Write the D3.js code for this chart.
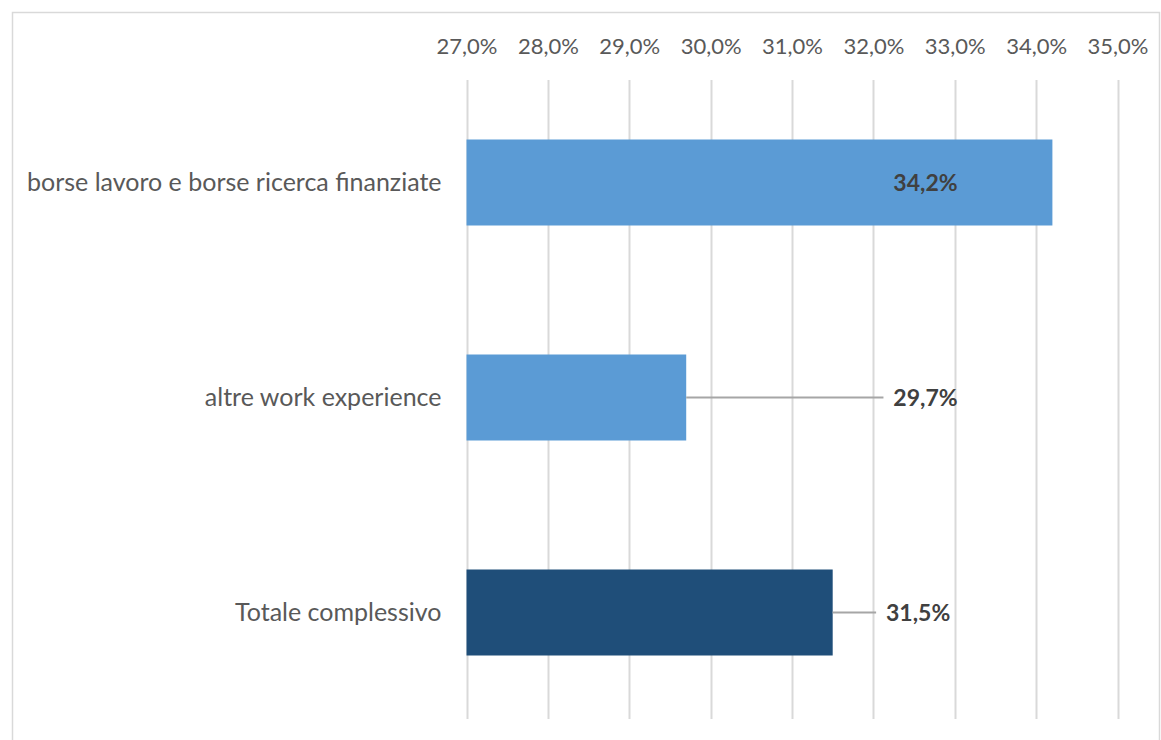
<!DOCTYPE html>
<html>
<head>
<meta charset="utf-8">
<script src="https://cdn.jsdelivr.net/npm/d3@7"></script>
<style>
  html, body { margin: 0; padding: 0; background: #fff; }
  svg { display: block; }
</style>
</head>
<body>
<svg id="chart" width="1161" height="740"></svg>
<script>
// Share by category (percent)
const categories = ["borse lavoro e borse ricerca finanziate", "altre work experience", "Totale complessivo"];
const values = [34.2, 29.7, 31.5];
const barColors = ["#5B9BD5", "#5B9BD5", "#1F4E79"];
const tickValues = [27, 28, 29, 30, 31, 32, 33, 34, 35];
// where each value label sits along the value axis
const labelAt = [32.64, 32.64, 32.55];

const W = 1161, H = 740;
const svg = d3.select("#chart");
const font = "Lato, 'Open Sans', sans-serif";
const fmt = v => d3.format(".1f")(v).replace(".", ",") + "%";

// frame
svg.append("rect")
  .attr("x", 12.5).attr("y", 12.5)
  .attr("width", 1147).attr("height", 800)
  .attr("fill", "none").attr("stroke", "#D9D9D9").attr("stroke-width", 1.5);

const x = d3.scaleLinear().domain([27, 35]).range([466.5, 1117.5]);
const y = d3.scaleBand().domain(categories).range([75, 720]).paddingInner(0.6).paddingOuter(0.3);

const gridTop = 80, gridBottom = 719;

// vertical gridlines
svg.append("g").selectAll("line")
  .data(tickValues)
  .join("line")
  .attr("x1", d => Math.round(x(d)) + 0.5).attr("x2", d => Math.round(x(d)) + 0.5)
  .attr("y1", gridTop).attr("y2", gridBottom)
  .attr("stroke", "#D9D9D9").attr("stroke-width", 2);

// top value axis (labels only)
const axis = d3.axisTop(x).tickValues(tickValues).tickFormat(fmt).tickSize(0).tickPadding(0);
const ax = svg.append("g").attr("transform", "translate(0,54)").call(axis);
ax.select(".domain").remove();
ax.selectAll("text")
  .attr("fill", "#595959")
  .style("font-family", font)
  .style("font-size", "22px");

// bars
svg.append("g").selectAll("rect")
  .data(values)
  .join("rect")
  .attr("x", x(27))
  .attr("y", (d, i) => y(categories[i]))
  .attr("width", d => x(d) - x(27))
  .attr("height", y.bandwidth())
  .attr("fill", (d, i) => barColors[i]);

// category axis on the left
const yAxis = d3.axisLeft(y).tickSize(0).tickPadding(25);
const yg = svg.append("g").attr("transform", `translate(${x(27)},0)`).call(yAxis);
yg.select(".domain").remove();
yg.selectAll("text")
  .attr("fill", "#595959")
  .style("font-family", font)
  .style("font-size", "25px");

// leader lines from bar end to label (when label is outside the bar)
svg.append("g").selectAll("line")
  .data(values.map((v, i) => ({ v, i })).filter(d => x(d.v) < x(labelAt[d.i]) - 40))
  .join("line")
  .attr("x1", d => x(d.v))
  .attr("x2", d => x(labelAt[d.i]) - 42)
  .attr("y1", d => y(categories[d.i]) + y.bandwidth() / 2)
  .attr("y2", d => y(categories[d.i]) + y.bandwidth() / 2)
  .attr("stroke", "#A6A6A6").attr("stroke-width", 2);

// value labels
svg.append("g").selectAll("text")
  .data(values)
  .join("text")
  .attr("x", (d, i) => x(labelAt[i]))
  .attr("y", (d, i) => y(categories[i]) + y.bandwidth() / 2)
  .attr("dy", "0.35em")
  .attr("text-anchor", "middle")
  .attr("fill", "#404040")
  .style("font-family", font)
  .style("font-weight", "bold")
  .style("font-size", "23px")
  .text(fmt);
</script>
</body>
</html>
